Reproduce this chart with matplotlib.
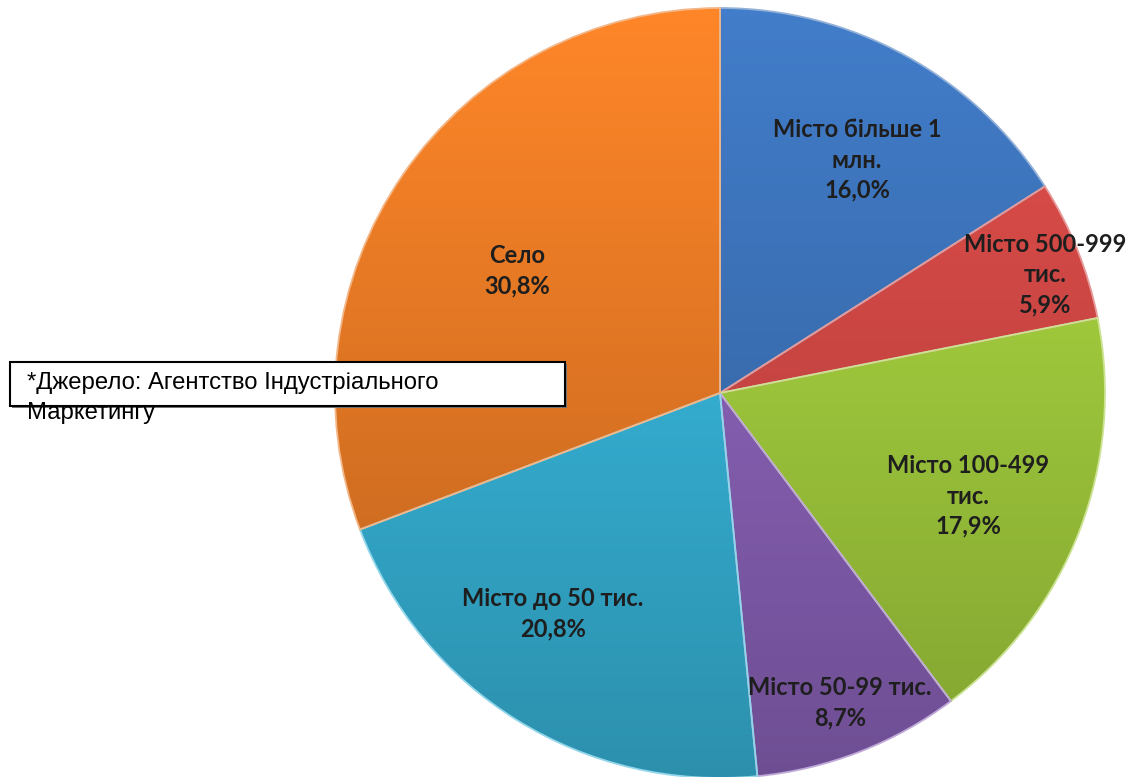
import numpy as np
import matplotlib
matplotlib.use("Agg")
import matplotlib.pyplot as plt
from matplotlib.colors import to_rgb
from matplotlib.patches import Rectangle, Wedge

# ---- data ----
categories = ["Місто більше 1\nмлн.", "Місто 500-999\nтис.", "Місто 100-499\nтис.",
              "Місто 50-99 тис.", "Місто до 50 тис.", "Село"]
values = [16.0, 5.9, 17.9, 8.7, 20.8, 30.8]
pct_labels = ["16,0%", "5,9%", "17,9%", "8,7%", "20,8%", "30,8%"]
colors = ["#3c72b8", "#d04845", "#a2cc3d", "#8a62b8", "#37b4d8", "#e87a25"]
source_text = ["*Джерело: Агентство Індустріального", "Маркетингу"]

W, H = 1128, 777
fig = plt.figure(figsize=(W / 100, H / 100), dpi=100)
ax = fig.add_axes([0, 0, 1, 1])

cx, cy, r = 720, H - 393, 385

wedges, _ = ax.pie(values, startangle=90, counterclock=False, center=(cx, cy),
                   radius=r, colors=colors, frame=True,
                   wedgeprops=dict(linewidth=0))
ax.set_xlim(0, W)
ax.set_ylim(0, H)
ax.set_aspect("equal")
ax.axis("off")

# vertical shading gradient per wedge (lighter at top, darker at bottom)
ys = np.linspace(0, 1, 256)  # top -> bottom
shade = 1.10 - 0.30 * ys
for w, c in zip(wedges, colors):
    rgb = np.array(to_rgb(c))
    img = np.clip(rgb[None, :] * shade[:, None], 0, 1)
    img = np.concatenate([img, np.ones((256, 1))], axis=1)[:, None, :]
    im = ax.imshow(img, extent=[cx - r, cx + r, cy - r, cy + r], aspect="auto",
                   zorder=2, interpolation="bilinear")
    im.set_clip_path(w)
    w.set_zorder(1)

# light bevel borders
for w, c in zip(wedges, colors):
    rgb = np.array(to_rgb(c))
    light = rgb + (1 - rgb) * 0.45
    ax.add_patch(Wedge(w.center, w.r, w.theta1, w.theta2, facecolor="none",
                       edgecolor=light, linewidth=1.3, zorder=3))

# labels (pixel positions of label centres)
label_pos = [(857, 160), (1045, 275), (968, 496), (840, 703), (553, 614), (517, 271)]
font = dict(family=["Lato", "DejaVu Sans"], fontweight="bold", fontsize=17,
            color="#1e1e1e", ha="center", va="center", linespacing=1.38, zorder=5)
for (px, py), cat, pl in zip(label_pos, categories, pct_labels):
    ax.text(px, H - py, cat + "\n" + pl, **font)

# source box
ax.add_patch(Rectangle((12, H - 408), 555, 44, facecolor="#777777", edgecolor="none", zorder=6))
ax.add_patch(Rectangle((10, H - 406), 555, 44, facecolor="white", edgecolor="black",
                       linewidth=1.5, zorder=7))
ax.text(27, H - 383, source_text[0], family=["Liberation Sans"],
        fontsize=17.2, color="black", ha="left", va="center", zorder=8)
ax.text(27, H - 413, source_text[1], family=["Liberation Sans"],
        fontsize=17.2, color="black", ha="left", va="center", zorder=8)

fig.savefig("out.png", dpi=100)
